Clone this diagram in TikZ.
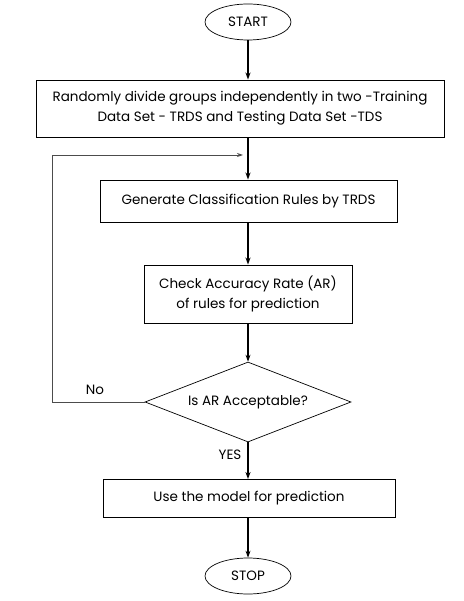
\documentclass[tikz,border=0pt]{standalone}
\usepackage{fontspec}
\setmainfont{Poppins}
\usetikzlibrary{shapes.geometric,arrows.meta}
\begin{document}
\begin{tikzpicture}[x=1pt,y=-1pt,
  txt/.style={font=\fontsize{13.5}{20}\selectfont},
  box/.style={draw,line width=0.9pt,minimum width=#1,inner sep=0pt,align=center,txt},
  term/.style={draw,ellipse,line width=0.7pt,minimum width=86pt,minimum height=36pt,inner sep=0pt,txt},
  arr/.style={-{Stealth[length=7pt,width=5pt]},line width=1.1pt},
  fb/.style={line width=0.9pt,draw=black!70}]
\useasboundingbox (0,0) rectangle (463,601);
\node[term] (start) at (248,22) {START};
\node[box=408pt,minimum height=57pt] (b1) at (240,108.5) {Randomly divide groups independently in two -Training\\Data Set - TRDS and Testing Data Set -TDS};
\node[box=297pt,minimum height=42pt] (b2) at (248.5,201) {Generate Classification Rules by TRDS};
\node[box=208pt,minimum height=58pt] (b3) at (248,294) {Check Accuracy Rate (AR)\\of rules for prediction};
\node[draw,diamond,aspect=2.6,line width=0.7pt,minimum width=206pt,minimum height=80pt,inner sep=0pt,txt] (d) at (248,402) {Is AR Acceptable?};
\node[box=292pt,minimum height=38pt] (b4) at (249,498.5) {Use the model for prediction};
\node[term] (stop) at (248,576) {STOP};
\coordinate (m) at (248,155);
\coordinate (c1) at (52,402);
\coordinate (c2) at (52,155);
\draw[arr] (start) -- (start.south |- b1.north);
\draw[line width=1.1pt] (b1.south -| m) -- (m);
\draw[arr] (m) -- (b2.north -| m);
\draw[arr] (b2.south -| m) -- (b3.north -| m);
\draw[arr] (b3.south -| m) -- (d.north);
\draw[fb,-{Stealth[length=6pt,width=4pt]}] (d.west) -- (c1) -- (c2) -- ([xshift=-5pt]m);
\node[txt] (no) at (95,390) {No};
\node[txt] (yes) at (230,455) {YES};
\draw[arr] (d.south) -- (d.south |- b4.north);
\draw[arr] (b4.south -| m) -- (stop.north);
\end{tikzpicture}
\end{document}
